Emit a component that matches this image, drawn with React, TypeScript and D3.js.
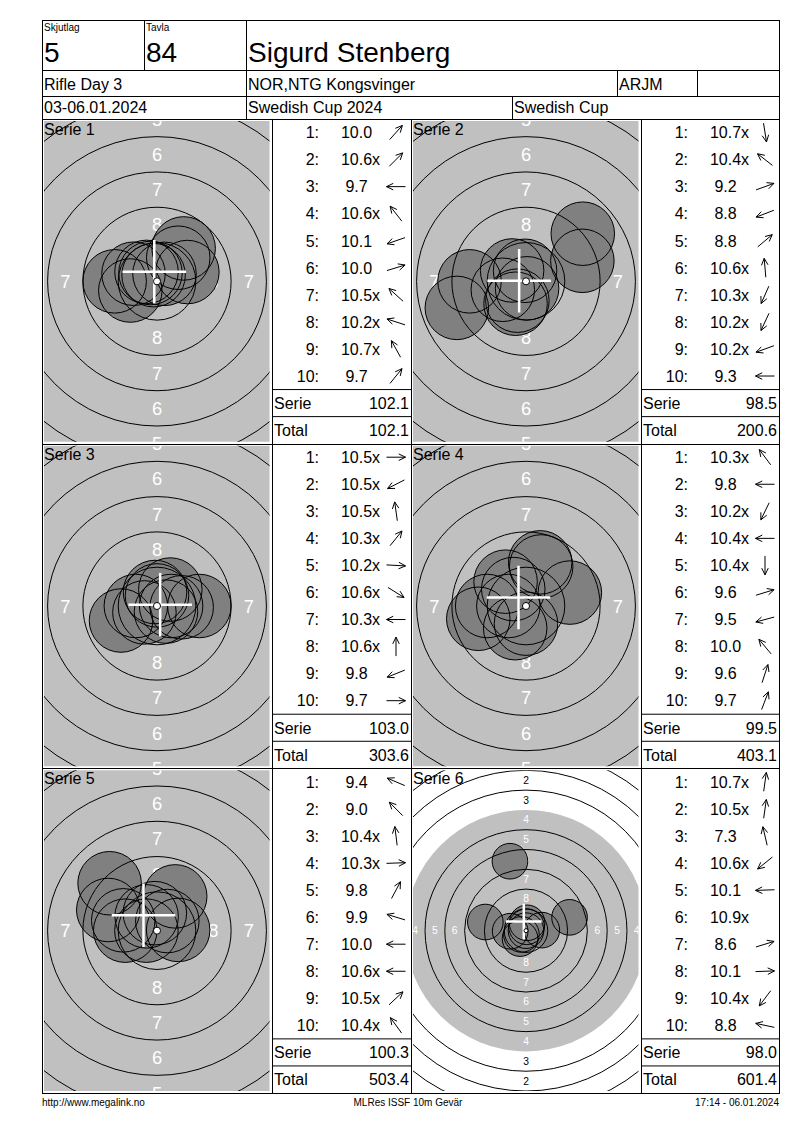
import * as d3 from 'd3';
import { ReactElement } from 'react';

// ─ Data ─────────────────────────────────────────────────────────────────────
const squadLabel = 'Skjutlag';
const squad = '5';
const laneLabel = 'Tavla';
const lane = '84';
const shooterName = 'Sigurd Stenberg';
const eventName = 'Rifle Day 3';
const clubName = 'NOR,NTG Kongsvinger';
const classCode = 'ARJM';
const dateRange = '03-06.01.2024';
const competition = 'Swedish Cup 2024';
const competitionShort = 'Swedish Cup';
const footerLeft = 'http://www.megalink.no';
const footerMid = 'MLRes ISSF 10m Gevär';
const footerRight = '17:14 - 06.01.2024';

const seriesNames = ['Serie 1', 'Serie 2', 'Serie 3', 'Serie 4', 'Serie 5', 'Serie 6'];

// decimal score of every shot
const series1Scores = [10.0, 10.6, 9.7, 10.6, 10.1, 10.0, 10.5, 10.2, 10.7, 9.7];
const series2Scores = [10.7, 10.4, 9.2, 8.8, 8.8, 10.6, 10.3, 10.2, 10.2, 9.3];
const series3Scores = [10.5, 10.5, 10.5, 10.3, 10.2, 10.6, 10.3, 10.6, 9.8, 9.7];
const series4Scores = [10.3, 9.8, 10.2, 10.4, 10.4, 9.6, 9.5, 10.0, 9.6, 9.7];
const series5Scores = [9.4, 9.0, 10.4, 10.3, 9.8, 9.9, 10.0, 10.6, 10.5, 10.4];
const series6Scores = [10.7, 10.5, 7.3, 10.6, 10.1, 10.9, 8.6, 10.1, 10.4, 8.8];

// direction of every shot from the centre, degrees (0 = right, 90 = up)
const series1Dirs = [48, 45, 180, 128, 199, 17, 138, 162, 119, 51];
const series2Dirs = [279, 142, 20, 201, 40, 95, 246, 245, 200, 180];
const series3Dirs = [0, 207, 98, 51, 357, 328, 180, 90, 202, 0];
const series4Dirs = [127, 180, 244, 180, 270, 17, 195, 130, 72, 69];
const series5Dirs = [157, 135, 97, 2, 62, 163, 180, 180, 43, 126];
const series6Dirs = [82, 82, 103, 219, 182, 0, 17, 2, 233, 168];

const allScores = [series1Scores, series2Scores, series3Scores, series4Scores, series5Scores, series6Scores];
const allDirs = [series1Dirs, series2Dirs, series3Dirs, series4Dirs, series5Dirs, series6Dirs];

// ─ Layout ───────────────────────────────────────────────────────────────────
const FONT = '"Liberation Sans", Arial, Helvetica, sans-serif';
const X0 = 42;
const X1 = 779;
const HEADER_Y = [20, 70, 96, 119];
const SERIES_BOTTOM = 1093;
const SERIES_H = (SERIES_BOTTOM - HEADER_Y[3]) / 3;
const COLS = [42, 272, 411, 641, 779]; // target | table | target | table

// ISSF 10m air rifle target (mm)
const PELLET_R = 2.25;
const ringRadius = (n: number) => 0.25 + 2.5 * (10 - n);
const scoreToMm = d3.scaleLinear().domain([10.9, 0.9]).range([0, 25]);

const fmt = (v: number) => (Math.round(v * 10) / 10).toFixed(1);

// ─ Target panel ─────────────────────────────────────────────────────────────
interface TargetProps {
  x: number; y: number; w: number; h: number;
  scores: number[]; dirs: number[]; name: string; id: string;
}

const Target = ({ x, y, w, h, scores, dirs, name, id }: TargetProps): ReactElement => {
  const cx = x + w / 2;
  const cy = y + h / 2;

  const shots = scores.map((s, i) => {
    const d = scoreToMm(s);
    const a = (dirs[i] * Math.PI) / 180;
    return { dx: d * Math.cos(a), dy: -d * Math.sin(a), d };
  });
  // zoom out when a shot would fall outside the close-up view
  const maxExtent = (d3.max(shots, s => s.d) || 0) + PELLET_R;
  const viewMm = maxExtent > (w / 2 - 2) / 14 ? 20.5 : 11.5;
  const ppm = (h / 2) / viewMm;
  const px = d3.scaleLinear().domain([0, 1]).range([0, ppm]);

  const meanX = d3.mean(shots, s => s.dx) || 0;
  const meanY = d3.mean(shots, s => s.dy) || 0;
  const arm = px(PELLET_R);

  const labelRings = d3.range(1, 9);
  const lineRings = d3.range(1, 10).filter(n => n !== 4);

  return (
    <g>
      <defs>
        <clipPath id={id}>
          <rect x={x + 2} y={y + 2} width={w - 4.5} height={h - 4} />
        </clipPath>
      </defs>
      <g clipPath={`url(#${id})`}>
        <rect x={x} y={y} width={w} height={h} fill="#ffffff" />
        <circle cx={cx} cy={cy} r={px(ringRadius(4))} fill="#c0c0c0" />
        {labelRings.map(n => {
          const rad = px((ringRadius(n) + ringRadius(n + 1)) / 2);
          const fill = n >= 4 ? '#ffffff' : '#000000';
          const pos = [[0, -rad], [0, rad], [-rad, 0], [rad, 0]];
          return pos.map(([ox, oy], k) => (
            <text key={`${n}-${k}`} x={cx + ox} y={cy + oy} fill={fill}
              fontSize={1.3 * ppm} fontFamily={FONT} textAnchor="middle" dominantBaseline="central">
              {n}
            </text>
          ));
        })}
        {shots.map((s, i) => (
          <circle key={`f${i}`} cx={cx + px(s.dx)} cy={cy + px(s.dy)} r={arm} fill="#808080" />
        ))}
        {lineRings.map(n => (
          <circle key={`r${n}`} cx={cx} cy={cy} r={px(ringRadius(n))} fill="none" stroke="#000" strokeWidth={1} />
        ))}
        {shots.map((s, i) => (
          <circle key={`o${i}`} cx={cx + px(s.dx)} cy={cy + px(s.dy)} r={arm} fill="none" stroke="#000" strokeWidth={1} />
        ))}
        <line x1={cx + px(meanX) - arm} x2={cx + px(meanX) + arm} y1={cy + px(meanY)} y2={cy + px(meanY)}
          stroke="#fff" strokeWidth={2.5} />
        <line x1={cx + px(meanX)} x2={cx + px(meanX)} y1={cy + px(meanY) - arm} y2={cy + px(meanY) + arm}
          stroke="#fff" strokeWidth={2.5} />
        <circle cx={cx} cy={cy} r={Math.max(2, px(ringRadius(10)))} fill="#fff" stroke="#000" strokeWidth={1} />
      </g>
      <text x={x + 2} y={y + 16} fontSize={16} fontFamily={FONT} fill="#000">{name}</text>
    </g>
  );
};

// ─ Score table ──────────────────────────────────────────────────────────────
interface TableProps {
  x: number; y: number; w: number; h: number;
  scores: number[]; dirs: number[]; total: number;
}

const Arrow = ({ cx, cy, angle }: { cx: number; cy: number; angle: number }): ReactElement => {
  const a = (angle * Math.PI) / 180;
  const ux = Math.cos(a);
  const uy = -Math.sin(a);
  const L = 9.5;
  const tipX = cx + ux * L;
  const tipY = cy + uy * L;
  const head = (sign: number) => {
    const b = a + Math.PI + sign * 0.45;
    return [tipX + 7.5 * Math.cos(b), tipY - 7.5 * Math.sin(b)];
  };
  const [h1x, h1y] = head(1);
  const [h2x, h2y] = head(-1);
  return (
    <path d={`M${cx - ux * L},${cy - uy * L}L${tipX},${tipY}M${h1x},${h1y}L${tipX},${tipY}L${h2x},${h2y}`}
      fill="none" stroke="#000" strokeWidth={1} />
  );
};

const ScoreTable = ({ x, y, w, h, scores, dirs, total }: TableProps): ReactElement => {
  const rowH = h / 12;
  const rowY = (i: number) => y + (i + 0.5) * rowH;
  const serie = d3.sum(scores);
  const fs = 16;
  return (
    <g fontFamily={FONT} fontSize={fs} fill="#000">
      {scores.map((s, i) => {
        const txt = s.toFixed(1);
        const tw = (txt.replace('.', '').length * 0.556 + 0.278) * fs;
        return (
          <g key={i}>
            <text x={x + 47} y={rowY(i) + 5.8} textAnchor="end">{`${i + 1}:`}</text>
            <text x={x + 84.5} y={rowY(i) + 5.8} textAnchor="middle">{txt}</text>
            {s >= 10.2 && (
              <text x={x + 84.5 + tw / 2} y={rowY(i) + 5.8}>x</text>
            )}
            {s < 10.9 && <Arrow cx={x + 124} cy={rowY(i)} angle={dirs[i]} />}
          </g>
        );
      })}
      <line x1={x} x2={x + w} y1={y + 10 * rowH} y2={y + 10 * rowH} stroke="#000" />
      <line x1={x} x2={x + w} y1={y + 11 * rowH} y2={y + 11 * rowH} stroke="#000" />
      <text x={x + 2} y={rowY(10) + 5.8}>Serie</text>
      <text x={x + w - 2} y={rowY(10) + 5.8} textAnchor="end">{fmt(serie)}</text>
      <text x={x + 2} y={rowY(11) + 5.8}>Total</text>
      <text x={x + w - 2} y={rowY(11) + 5.8} textAnchor="end">{fmt(total)}</text>
    </g>
  );
};

// ─ App ──────────────────────────────────────────────────────────────────────
const App = (): ReactElement => {
  const seriesSums = allScores.map(s => d3.sum(s));
  const runningTotals = d3.cumsum(seriesSums);

  const hLine = (x1: number, x2: number, yy: number, k: string) => (
    <line key={k} x1={x1} x2={x2} y1={yy + 0.5} y2={yy + 0.5} stroke="#000" strokeWidth={1} />
  );
  const vLine = (xx: number, y1: number, y2: number, k: string) => (
    <line key={k} x1={xx + 0.5} x2={xx + 0.5} y1={y1} y2={y2} stroke="#000" strokeWidth={1} />
  );

  const seriesTops = [0, 1, 2].map(r => HEADER_Y[3] + r * SERIES_H);

  return (
    <svg width={800} height={1130} style={{ position: 'absolute', left: 0, top: 0, background: '#fff' }}>
      <rect x={0} y={0} width={800} height={1130} fill="#fff" />

      {allScores.map((scores, i) => {
        const row = Math.floor(i / 2);
        const side = i % 2;
        const top = seriesTops[row];
        return (
          <g key={i}>
            <Target id={`clip${i}`} x={COLS[side * 2]} y={top} w={COLS[side * 2 + 1] - COLS[side * 2]} h={SERIES_H}
              scores={scores} dirs={allDirs[i]} name={seriesNames[i]} />
            <ScoreTable x={COLS[side * 2 + 1]} y={top} w={COLS[side * 2 + 2] - COLS[side * 2 + 1]} h={SERIES_H}
              scores={scores} dirs={allDirs[i]} total={runningTotals[i]} />
          </g>
        );
      })}

      {/* grid */}
      {hLine(X0, X1 + 1, HEADER_Y[0], 'h0')}
      {hLine(X0, X1 + 1, HEADER_Y[1], 'h1')}
      {hLine(X0, X1 + 1, HEADER_Y[2], 'h2')}
      {hLine(X0, X1 + 1, HEADER_Y[3], 'h3')}
      {seriesTops.slice(1).map((t, i) => hLine(X0, X1 + 1, Math.round(t), `hs${i}`))}
      {hLine(X0, X1 + 1, SERIES_BOTTOM, 'hb')}
      {vLine(X0, HEADER_Y[0], SERIES_BOTTOM + 1, 'v0')}
      {vLine(X1, HEADER_Y[0], SERIES_BOTTOM + 1, 'v1')}
      {vLine(144, HEADER_Y[0], HEADER_Y[1], 'v2')}
      {vLine(246, HEADER_Y[0], HEADER_Y[3], 'v3')}
      {vLine(617, HEADER_Y[1], HEADER_Y[2], 'v4')}
      {vLine(697, HEADER_Y[1], HEADER_Y[2], 'v5')}
      {vLine(512, HEADER_Y[2], HEADER_Y[3], 'v6')}
      {COLS.slice(1, 4).map((c, i) => vLine(c, HEADER_Y[3], SERIES_BOTTOM, `vc${i}`))}

      {/* header text */}
      <g fontFamily={FONT} fill="#000">
        <text x={44} y={31} fontSize={10}>{squadLabel}</text>
        <text x={146} y={31} fontSize={10}>{laneLabel}</text>
        <text x={44} y={62} fontSize={28}>{squad}</text>
        <text x={146} y={62} fontSize={28}>{lane}</text>
        <text x={248} y={62} fontSize={28}>{shooterName}</text>
        <text x={44} y={90} fontSize={16}>{eventName}</text>
        <text x={248} y={90} fontSize={16}>{clubName}</text>
        <text x={619} y={90} fontSize={16}>{classCode}</text>
        <text x={44} y={113} fontSize={16}>{dateRange}</text>
        <text x={248} y={113} fontSize={16}>{competition}</text>
        <text x={514} y={113} fontSize={16}>{competitionShort}</text>
      </g>

      {/* footer */}
      <g fontFamily={FONT} fill="#000" fontSize={10}>
        <text x={42} y={1106}>{footerLeft}</text>
        <text x={408} y={1106} textAnchor="middle">{footerMid}</text>
        <text x={779} y={1106} textAnchor="end">{footerRight}</text>
      </g>
    </svg>
  );
};

export default App;
